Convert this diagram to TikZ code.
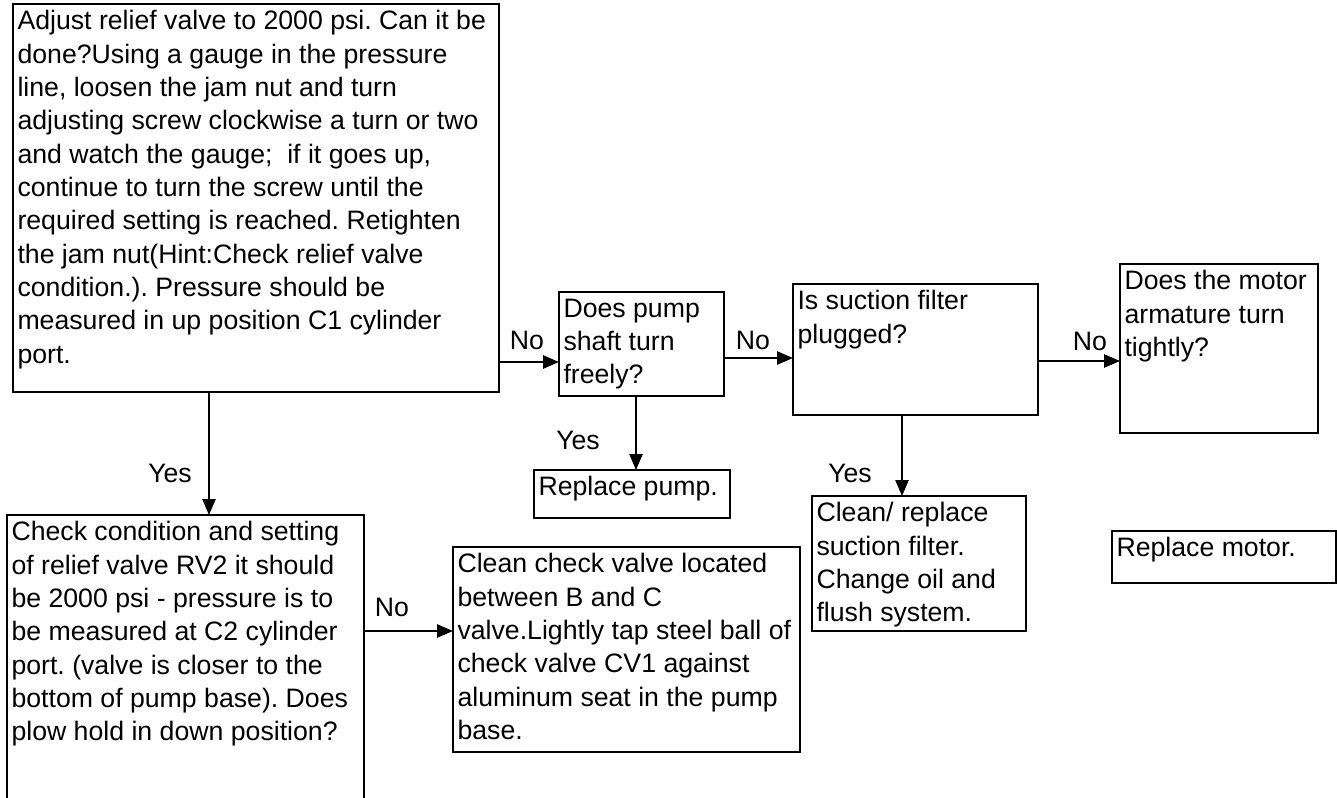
\documentclass[tikz,border=0pt]{standalone}
\usepackage{fontspec}
\setmainfont{Liberation Sans}
\usetikzlibrary{positioning, arrows.meta, calc}
\frenchspacing

% one reference pixel
\newlength{\pxu}
\setlength{\pxu}{0.75pt}
% top-aligned text block: width and height of the box in pixels
\newcommand{\boxtxt}[3]{%
  \parbox[t][\dimexpr #2\pxu-10pt\relax][t]{\dimexpr #1\pxu-6.8pt\relax}{\raggedright #3}}

\begin{document}
\begin{tikzpicture}[
    x=0.75pt, y=-0.75pt,
    every node/.style={font=\fontsize{20}{25}\selectfont},
    stepbox/.style={draw, line width=1.5pt, anchor=north west, outer sep=0pt,
                    inner xsep=3.4pt, inner ysep=5pt},
    flow/.style={-{Triangle[length=12pt, width=10pt]}, line width=1.1pt},
    answer/.style={inner sep=0pt}
  ]

  \path[fill=white, use as bounding box] (0,0) rectangle (1337,798);

  % ============================================================
  %  Top row -- pressure checks
  % ============================================================
  \node[stepbox] (adjust) at (13,4) {\boxtxt{486}{388}{%
    Adjust relief valve to 2000 psi. Can it be\\
    done?Using a gauge in the pressure\\
    line, loosen the jam nut and turn\\
    adjusting screw clockwise a turn or two\\
    and watch the gauge;\ \ if it goes up,\\
    continue to turn the screw until the\\
    required setting is reached. Retighten\\
    the jam nut(Hint:Check relief valve\\
    condition.). Pressure should be\\
    measured in up position C1 cylinder\\
    port.}};

  \node[stepbox] (shaft) at (559,292) {\boxtxt{165}{104}{%
    Does pump\\ shaft turn\\ freely?}};

  \node[stepbox] (filter) at (793,284) {\boxtxt{245}{131}{%
    Is suction filter\\ plugged?}};

  \node[stepbox] (motor) at (1120,264) {\boxtxt{198}{169}{%
    Does the motor\\ armature turn\\ tightly?}};

  % ============================================================
  %  Bottom row -- remedies
  % ============================================================
  \node[stepbox] (setting) at (7,515) {\boxtxt{357}{320}{%
    Check condition and setting\\
    of relief valve RV2 it should\\
    be 2000 psi - pressure is to\\
    be measured at C2 cylinder\\
    port. (valve is closer to the\\
    bottom of pump base). Does\\
    plow hold in down position?}};

  \node[stepbox] (checkvalve) at (453,547) {\boxtxt{347}{205}{%
    Clean check valve located\\
    between B and C\\
    valve.Lightly tap steel ball of\\
    check valve CV1 against\\
    aluminum seat in the pump\\
    base.}};

  \node[stepbox] (pump) at (534,470) {\boxtxt{196}{48}{Replace pump.}};

  \node[stepbox] (clean) at (812,496) {\boxtxt{214}{135}{%
    Clean/ replace\\ suction filter.\\ Change oil and\\ flush system.}};

  \node[stepbox] (newmotor) at (1112,531) {\boxtxt{224}{52}{Replace motor.}};

  % ============================================================
  %  Connectors
  % ============================================================
  \draw[flow] (adjust.east |- 0,362) -- (shaft.west |- 0,362);
  \draw[flow] (shaft.east |- 0,358) -- (filter.west |- 0,358);
  \draw[flow] (filter.east |- 0,361) -- (motor.west |- 0,361);

  \draw[flow] (adjust.south -| 209,0) -- (setting.north -| 209,0);
  \draw[flow] (shaft.south -| 636,0) -- (pump.north -| 636,0);
  \draw[flow] (filter.south -| 902,0) -- (clean.north -| 902,0);

  \draw[flow] (setting.east |- 0,631) -- (checkvalve.west |- 0,631);

  % Answers
  \node[answer] (noshaft)  at (527,340) {No};
  \node[answer] (nofilter) at (753,340) {No};
  \node[answer] (nomotor)  at (1090,341) {No};
  \node[answer] (noclean)  at (392,607) {No};

  \node[answer] (yessetting) at (170,473) {Yes};
  \node[answer] (yespump)    at (578,440) {Yes};
  \node[answer] (yesclean)   at (850,473) {Yes};

\end{tikzpicture}
\end{document}
